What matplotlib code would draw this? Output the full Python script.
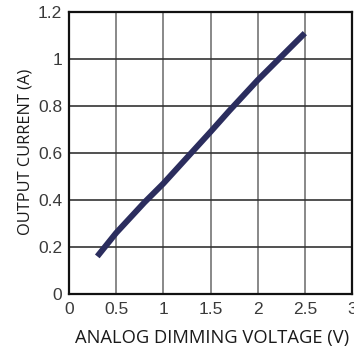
import matplotlib
matplotlib.use("Agg")
import matplotlib.pyplot as plt

# analog dimming curve
voltage = [0.3, 0.5, 0.8, 1.0, 1.5, 1.7, 2.0, 2.5]
current = [0.16, 0.26, 0.39, 0.47, 0.69, 0.78, 0.91, 1.11]

x_ticks = [0, 0.5, 1, 1.5, 2, 2.5, 3]
x_labels = ["0", "0.5", "1", "1.5", "2", "2.5", "3"]
y_ticks = [0, 0.2, 0.4, 0.6, 0.8, 1.0, 1.2]
y_labels = ["0", "0.2", "0.4", "0.6", "0.8", "1", "1.2"]

fig = plt.figure(figsize=(3.54, 3.52), dpi=100)
ax = fig.add_axes([69 / 354, 1 - 294 / 352, 283 / 354, 282 / 352])

ax.plot(voltage, current, color="#2b2d5e", lw=4.3, solid_capstyle="butt")
ax.set_xlim(0, 3)
ax.set_ylim(0, 1.2)
ax.set_xticks(x_ticks, x_labels, fontfamily="Liberation Sans", fontsize=12.5)
ax.set_yticks(y_ticks, y_labels, fontfamily="Liberation Sans", fontsize=12.5)
ax.tick_params(length=0, colors="#3a3a3a")
ax.tick_params(axis="x", pad=6)
ax.tick_params(axis="y", pad=5)
ax.grid(True, axis="x", color="#888888", lw=1.4)
ax.grid(True, axis="y", color="#333333", lw=1.2)
ax.set_axisbelow(True)
for s in ax.spines.values():
    s.set_linewidth(1.6)
    s.set_color("#111111")

ax.set_xlabel("ANALOG DIMMING VOLTAGE (V)", fontfamily="Open Sans", fontsize=13.2,
              color="#1a1a1a", va="center")
ax.set_ylabel("OUTPUT CURRENT (A)", fontfamily="Open Sans", fontsize=11.8,
              color="#1a1a1a", va="center")
ax.xaxis.set_label_coords(0.505, -0.156)
ax.yaxis.set_label_coords(-0.152, 0.504)

fig.savefig("out.png", dpi=100)
